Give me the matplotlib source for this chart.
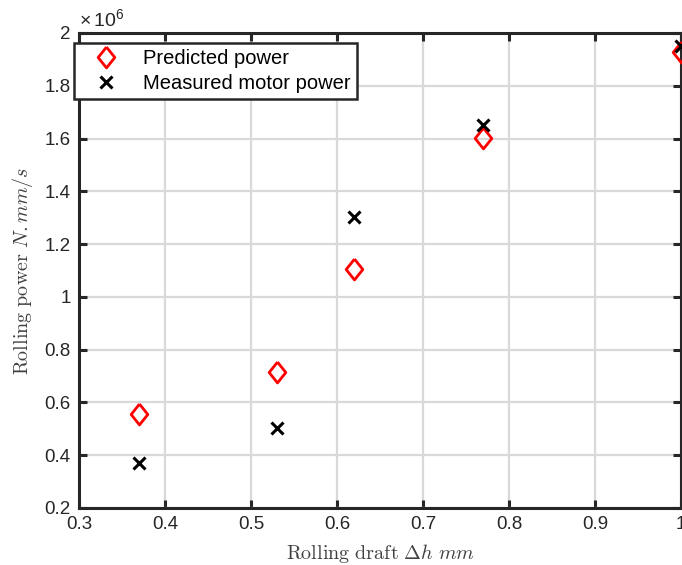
import matplotlib
matplotlib.use("Agg")
import matplotlib.pyplot as plt

# rolling draft (mm) and power (N.mm/s)
draft = [0.37, 0.53, 0.62, 0.77, 1.0]
predicted = [0.557e6, 0.717e6, 1.107e6, 1.603e6, 1.928e6]
measured = [0.372e6, 0.502e6, 1.302e6, 1.651e6, 1.951e6]

plt.rcParams["font.family"] = ["Liberation Sans", "DejaVu Sans"]
plt.rcParams["mathtext.fontset"] = "cm"

# slightly wider diamond than matplotlib's thin 'd'
diamond = [(0, 1), (0.8, 0), (0, -1), (-0.8, 0), (0, 1)]

fig = plt.figure(figsize=(6.82, 5.65), dpi=100)
ax = fig.add_axes([0.1158, 0.1009, 0.8827, 0.8407])

ax.plot(draft, predicted, linestyle="none", marker=diamond, markersize=15,
        markerfacecolor="none", markeredgecolor="red", markeredgewidth=2,
        label="Predicted power", clip_on=False, zorder=4)
ax.plot(draft, measured, linestyle="none", marker="x", markersize=8,
        color="black", markeredgewidth=2.2,
        label="Measured motor power", clip_on=False, zorder=5)

ax.set_xlim(0.3, 1.0)
ax.set_ylim(0.2e6, 2.0e6)
ax.set_xticks([0.3, 0.4, 0.5, 0.6, 0.7, 0.8, 0.9, 1.0])
ax.set_xticklabels(["0.3", "0.4", "0.5", "0.6", "0.7", "0.8", "0.9", "1"])
yt = [0.2, 0.4, 0.6, 0.8, 1.0, 1.2, 1.4, 1.6, 1.8, 2.0]
ax.set_yticks([v * 1e6 for v in yt])
ax.set_yticklabels(["0.2", "0.4", "0.6", "0.8", "1", "1.2", "1.4", "1.6", "1.8", "2"])

ax.grid(True, color="#d9d9d9", linewidth=1.6)
ax.set_axisbelow(True)
for s in ax.spines.values():
    s.set_linewidth(2.2)
    s.set_color("#262626")
ax.tick_params(direction="in", length=6, width=2.2, color="#262626",
               top=True, right=True, labelsize=13.5, labelcolor="#262626", pad=6)

ax.text(0.0, 1.006, r"$\mathregular{\times\,10^{6}}$", transform=ax.transAxes,
        fontsize=14, color="#262626", ha="left", va="bottom")

ax.set_xlabel(r"$\mathrm{Rolling\ draft}\ \Delta h\ mm$", fontsize=14.5,
              color="#404040", labelpad=6)
ax.set_ylabel(r"$\mathrm{Rolling\ power}\ N.mm/s$", fontsize=14.5,
              color="#404040", labelpad=7)

leg = ax.legend(loc="upper left", bbox_to_anchor=(-0.0083, 0.979),
                fontsize=14.5, frameon=True, fancybox=False,
                borderaxespad=0, handlelength=2.6, handletextpad=0.55,
                borderpad=0.3, labelspacing=0.3, markerscale=1.0)
leg.get_frame().set_edgecolor("#262626")
leg.get_frame().set_linewidth(1.8)
leg.get_frame().set_alpha(1)
leg.set_zorder(10)

fig.savefig("out.png", dpi=100)
